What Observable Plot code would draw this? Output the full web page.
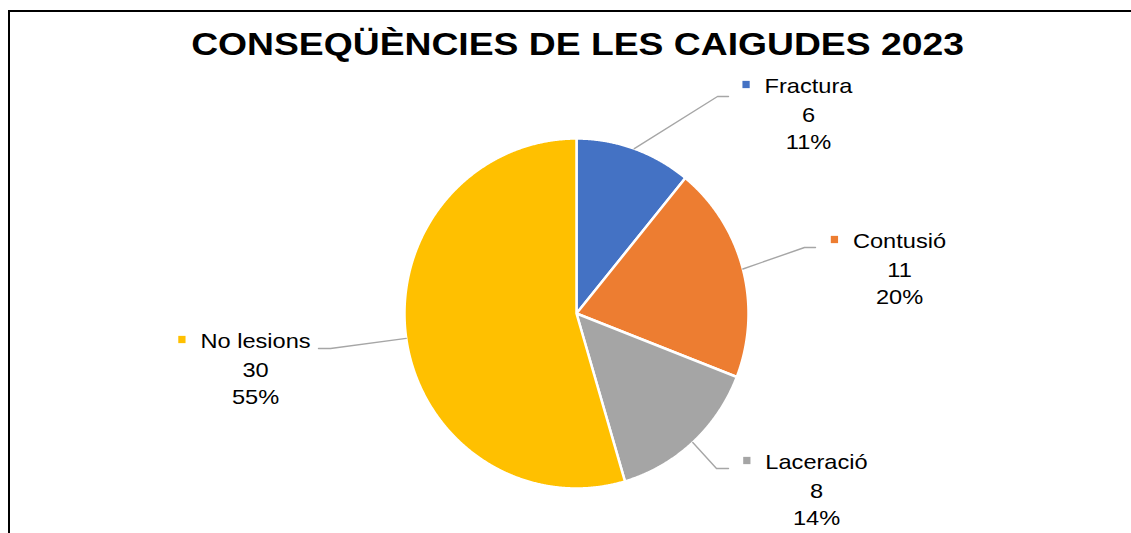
<!DOCTYPE html>
<html><head><meta charset="utf-8">
<script src="https://cdn.jsdelivr.net/npm/d3@7"></script>
<script src="https://cdn.jsdelivr.net/npm/@observablehq/plot@0.6"></script>
<style>
body{margin:0;background:#fff;overflow:hidden;font-family:"Liberation Sans",Arial,sans-serif;}
#wrap{position:relative;width:1131px;height:533px;overflow:hidden;background:#fff;}
#frame{position:absolute;left:8px;top:10px;width:1200px;height:600px;border-top:2px solid #000;border-left:2px solid #000;pointer-events:none;}
#title{margin-left:12px;width:1131px;height:60px;box-sizing:border-box;padding-top:28px;line-height:32px;font-size:32px;font-weight:bold;text-align:center;color:#000;transform:scaleX(1.165);white-space:nowrap;}
#chart svg{display:block;background:transparent;}
</style></head><body>
<div id="wrap"><div id="title">CONSEQÜÈNCIES DE LES CAIGUDES 2023</div><div id="chart"></div><div id="frame"></div></div>
<script>
// ---- data ----
const categories = ["Fractura", "Contusió", "Laceració", "No lesions"];
const values = [6, 11, 8, 30];
const percentLabels = ["11%", "20%", "14%", "55%"];
const colors = ["#4472C4", "#ED7D31", "#A5A5A5", "#FFC000"];

// ---- layout (pixels relative to pie centre) ----
const W = 1131, H = 473;
const cx = 576, cy = 253, rx = 172, ry = 175;
const labelDx = [232, 323, 240, -321];
const labelDy = [-221, -66, 155, 34];
const elbowDx = [141, 228, 140, -246];
const elbowDy = [-217, -66, 155, 35];
const endDx = [152, 239, 152, -258];
const lineOffsets = [0, 29, 56];
const textScaleX = 1.18;
const fontSize = 20;
const fontFamily = "'Liberation Sans', Arial, sans-serif";

const pie = d3.pie().sort(null).value(d => d)(values);

const slicePts = [];
pie.forEach((p, i) => {
  const cat = categories[i];
  slicePts.push({cat, x: 0, y: 0});
  const n = Math.max(2, Math.ceil((p.endAngle - p.startAngle) / 0.005));
  for (let k = 0; k <= n; k++) {
    const a = p.startAngle + (p.endAngle - p.startAngle) * k / n;
    slicePts.push({cat, x: Math.sin(a), y: -Math.cos(a)});
  }
  slicePts.push({cat, x: 0, y: 0});
});

const leaders = [];
pie.forEach((p, i) => {
  const m = (p.startAngle + p.endAngle) / 2, cat = categories[i];
  leaders.push({cat, x: Math.sin(m), y: -Math.cos(m)});
  leaders.push({cat, x: elbowDx[i] / rx, y: elbowDy[i] / ry});
  leaders.push({cat, x: endDx[i] / rx, y: elbowDy[i] / ry});
});

const labelRows = [];
categories.forEach((c, i) => {
  [c, String(values[i]), percentLabels[i]].forEach((t, j) => {
    labelRows.push({text: t, x: labelDx[i] / rx, y: (labelDy[i] + lineOffsets[j]) / ry});
  });
});

const ctx = document.createElement("canvas").getContext("2d");
ctx.font = `${fontSize}px ${fontFamily}`;
const markers = categories.map((c, i) => {
  const w = ctx.measureText(c).width * textScaleX;
  return {cat: c, x: (labelDx[i] - w / 2 - 18.5) / rx, y: (labelDy[i] - 8) / ry};
});

const chart = Plot.plot({
  width: W, height: H, margin: 0,
  x: {domain: [-1, 1], range: [cx - rx, cx + rx], axis: null},
  y: {domain: [-1, 1], range: [cy - ry, cy + ry], axis: null},
  color: {domain: categories, range: colors},
  marks: [
    Plot.line(slicePts, {x: "x", y: "y", z: "cat", fill: "cat", stroke: "white", strokeWidth: 2.5, strokeLinejoin: "round"}),
    Plot.line(leaders, {x: "x", y: "y", z: "cat", stroke: "#A6A6A6", strokeWidth: 1.4}),
    Plot.dot(markers, {x: "x", y: "y", symbol: "square", r: 4.1, fill: "cat", stroke: "none"}),
    Plot.text(labelRows, {x: "x", y: "y", text: "text", textAnchor: "middle", lineAnchor: "bottom", fontSize, fontFamily, fill: "#000"})
  ]
});
chart.style.background = "transparent";
document.getElementById("chart").appendChild(chart);

chart.querySelectorAll('g[aria-label="text"] text').forEach(t => {
  const tr = t.getAttribute("transform");
  if (tr && tr.includes("translate")) {
    t.setAttribute("transform", tr + ` scale(${textScaleX},1)`);
  } else {
    const x = +t.getAttribute("x") || 0;
    t.setAttribute("transform", `translate(${x},0) scale(${textScaleX},1) translate(${-x},0)`);
  }
});
</script>
</body></html>
